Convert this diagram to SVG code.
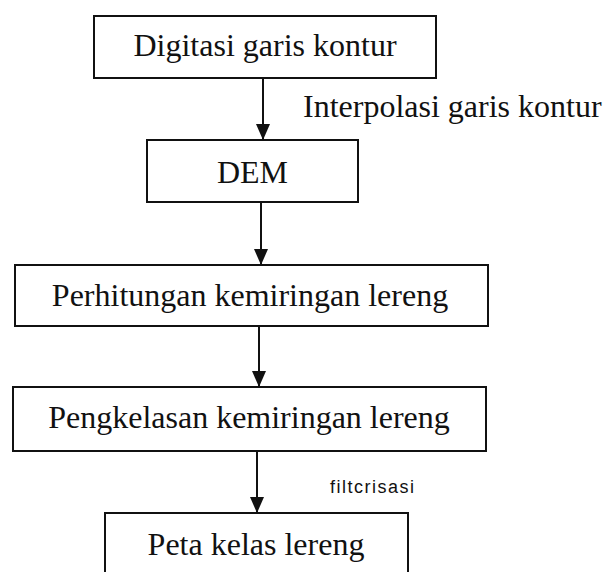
<svg xmlns="http://www.w3.org/2000/svg" width="607" height="572" viewBox="0 0 607 572">
<style>
.box{fill:#fff;stroke:#111;stroke-width:2}
.lbl{font-family:"Liberation Serif","Times New Roman",serif;font-size:32px;fill:#111}
.small{font-family:"Liberation Sans",Arial,sans-serif;font-size:18px;fill:#111;letter-spacing:1.5px}
.edge{stroke:#111;stroke-width:2;fill:none;marker-end:url(#arr)}
</style>
<defs>
<marker id="arr" markerUnits="userSpaceOnUse" markerWidth="16" markerHeight="14" viewBox="0 0 16 14" refX="16" refY="7" orient="auto">
<path d="M0,0 L16,7 L0,14 Z" fill="#111"/>
</marker>
</defs>
<rect width="607" height="572" fill="#fff"/>
<g id="digitasi">
<rect class="box" x="94" y="16" width="342" height="62"/>
<text class="lbl" x="265" y="56" text-anchor="middle">Digitasi garis kontur</text>
</g>
<g id="dem">
<rect class="box" x="147" y="140" width="211" height="62"/>
<text class="lbl" x="252.5" y="183" text-anchor="middle">DEM</text>
</g>
<g id="perhitungan">
<rect class="box" x="15" y="265" width="473" height="61"/>
<text class="lbl" x="250" y="306" text-anchor="middle">Perhitungan kemiringan lereng</text>
</g>
<g id="pengkelasan">
<rect class="box" x="13" y="387" width="473" height="64"/>
<text class="lbl" x="249" y="428" text-anchor="middle">Pengkelasan kemiringan lereng</text>
</g>
<g id="peta">
<rect class="box" x="105" y="513" width="303" height="70"/>
<text class="lbl" x="256" y="555" text-anchor="middle">Peta kelas lereng</text>
</g>
<g id="connectors">
<line class="edge" x1="263" y1="79" x2="263" y2="140"/>
<line class="edge" x1="261" y1="203" x2="261" y2="265"/>
<line class="edge" x1="259" y1="327" x2="259" y2="387"/>
<line class="edge" x1="257" y1="452" x2="257" y2="513"/>
<text class="lbl" x="303" y="117">Interpolasi garis kontur</text>
<text class="small" x="330" y="493">filtcrisasi</text>
</g>
</svg>
